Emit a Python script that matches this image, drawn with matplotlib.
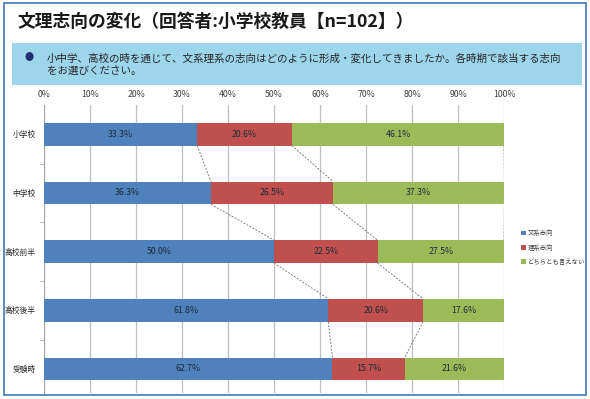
import matplotlib
matplotlib.use("Agg")
import matplotlib.pyplot as plt
from matplotlib.patches import Rectangle
import numpy as np

plt.rcParams['font.family'] = ['Noto Sans CJK JP', 'DejaVu Sans']

# data
categories = ['小学校', '中学校', '高校前半', '高校後半', '受験時']
bunkei = [33.3, 36.3, 50.0, 61.8, 62.7]
rikei = [20.6, 26.5, 22.5, 20.6, 15.7]
dochira = [46.1, 37.3, 27.5, 17.6, 21.6]
series_names = ['文系志向', '理系志向', 'どちらとも言えない']
series_colors = ['#4F81BD', '#C0504D', '#9BBB59']
xticks = np.arange(0, 101, 10)

title = '文理志向の変化（回答者:小学校教員【n=102】）'
question = ('小中学、高校の時を通じて、文系理系の志向はどのように形成・変化してきましたか。各時期で該当する志向\n'
            'をお選びください。')

fig = plt.figure(figsize=(5.9, 3.99), dpi=100)

# outer frame and the question box
fig.patches.append(Rectangle((0.006, 0.01), 0.987, 0.982, transform=fig.transFigure,
                             fill=False, edgecolor='#4F81BD', linewidth=1.3, zorder=0))
fig.patches.append(Rectangle((0.02, 0.787), 0.966, 0.105, transform=fig.transFigure,
                             facecolor='#9DD5EB', edgecolor='none', zorder=0))

fig.text(0.03, 0.944, title, fontsize=12.8, fontweight='bold', va='center', ha='left', color='#1a1a1a')
fig.text(0.049, 0.855, '●', fontsize=6.5, va='center', ha='center', color='#1F2F6F')
fig.text(0.079, 0.838, question, fontsize=7.6, va='center', ha='left', color='#262626',
         linespacing=1.25)

ax = fig.add_axes([0.0746, 0.015, 0.7797, 0.722])

y = np.arange(len(categories))
h = 0.39
data = [bunkei, rikei, dochira]
left = np.zeros(len(categories))
bars = []
for vals, name, col in zip(data, series_names, series_colors):
    vals = np.array(vals)
    b = ax.barh(y, vals, left=left, height=h, color=col, label=name, zorder=3)
    bars.append(b)
    for yi, l, v in zip(y, left, vals):
        ax.text(l + v / 2, yi, f'{v:.1f}%', ha='center', va='center', fontsize=6.3,
                color='#1f2a3a', zorder=4)
    left = left + vals

# series lines between bars
cum = np.cumsum(np.array(data), axis=0)
for row in cum:
    for i in range(len(categories) - 1):
        ax.plot([row[i], row[i + 1]], [i + h / 2, i + 1 - h / 2], ls=(0, (2, 1.5)),
                color='#7f7f7f', lw=0.7, zorder=2)

ax.set_xlim(0, 100)
ax.set_ylim(4.41, -0.5)
ax.set_xticks(xticks)
ax.set_xticklabels([f'{t}%' for t in xticks], fontsize=6.3, color='#404040')
ax.xaxis.tick_top()
ax.tick_params(axis='x', length=0, pad=4)
ax.grid(axis='x', color='#BFBFBF', lw=0.9, zorder=0)

ax.set_yticks(y)
ax.set_yticklabels(categories, fontsize=5.6, color='#262626')
ax.set_yticks(np.arange(0.5, len(categories) - 0.5, 1), minor=True)
ax.tick_params(axis='y', which='major', length=0, pad=6)
ax.tick_params(axis='y', which='minor', length=3, color='#A6A6A6', direction='out')

for s in ['top', 'right', 'bottom']:
    ax.spines[s].set_visible(False)
ax.spines['left'].set_color('#A6A6A6')

fig.legend(handles=bars, labels=series_names, loc='upper left', bbox_to_anchor=(0.879, 0.432),
           frameon=False, fontsize=4.6, handlelength=0.8, handleheight=0.8, handletextpad=0.3,
           labelspacing=1.0, borderaxespad=0, labelcolor='#404040')

fig.savefig('out.png', dpi=100)
